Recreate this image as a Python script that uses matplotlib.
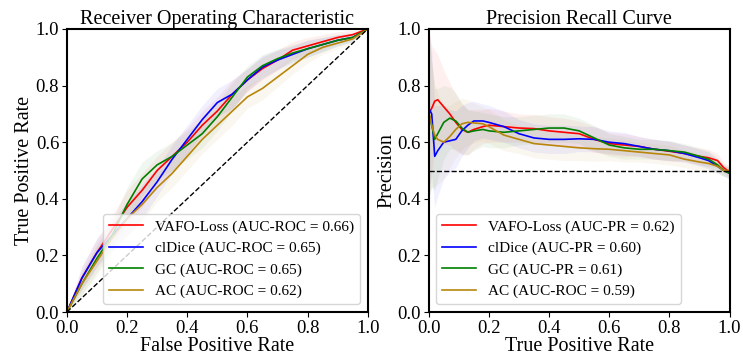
import numpy as np
import matplotlib
matplotlib.use('Agg')
import matplotlib.pyplot as plt

plt.rcParams['font.family'] = ['Liberation Serif', 'DejaVu Serif']

# === ROC data (mean curve + spread) ===
roc_fpr = [0.0, 0.05, 0.1, 0.15, 0.2, 0.25, 0.3, 0.35, 0.4, 0.45, 0.5,
           0.55, 0.6, 0.65, 0.7, 0.75, 0.8, 0.85, 0.9, 0.95, 1.0]
roc_vafo = [0.0, 0.12, 0.21, 0.29, 0.37, 0.43, 0.50, 0.55, 0.60, 0.66, 0.71,
            0.77, 0.82, 0.86, 0.89, 0.925, 0.94, 0.955, 0.97, 0.98, 1.0]
roc_cldice = [0.0, 0.12, 0.21, 0.27, 0.33, 0.39, 0.46, 0.54, 0.61, 0.68, 0.74,
              0.77, 0.82, 0.865, 0.89, 0.91, 0.93, 0.945, 0.96, 0.97, 1.0]
roc_gc = [0.0, 0.10, 0.19, 0.27, 0.38, 0.47, 0.52, 0.55, 0.59, 0.63, 0.69,
          0.76, 0.83, 0.87, 0.895, 0.915, 0.93, 0.945, 0.96, 0.97, 1.0]
roc_ac = [0.0, 0.10, 0.18, 0.26, 0.33, 0.38, 0.44, 0.49, 0.55, 0.61, 0.66,
          0.71, 0.76, 0.79, 0.83, 0.87, 0.91, 0.935, 0.95, 0.965, 1.0]
roc_std = [0.0, 0.04, 0.05, 0.05, 0.06, 0.06, 0.05, 0.05, 0.05, 0.05, 0.05,
           0.05, 0.04, 0.04, 0.035, 0.03, 0.03, 0.025, 0.02, 0.015, 0.0]

# === PR data ===
pr_tpr = [0.0, 0.01, 0.02, 0.03, 0.05, 0.07, 0.09, 0.11, 0.13, 0.15, 0.18, 0.2,
          0.25, 0.3, 0.35, 0.4, 0.45, 0.5, 0.55, 0.6, 0.65, 0.7, 0.75, 0.8,
          0.85, 0.9, 0.93, 0.96, 0.98, 1.0]
pr_vafo = [0.70, 0.72, 0.745, 0.75, 0.725, 0.70, 0.67, 0.645, 0.635, 0.645, 0.655, 0.66,
           0.655, 0.65, 0.648, 0.64, 0.635, 0.63, 0.61, 0.595, 0.59, 0.585, 0.575, 0.568,
           0.56, 0.55, 0.545, 0.535, 0.51, 0.495]
pr_cldice = [0.72, 0.70, 0.55, 0.57, 0.60, 0.605, 0.61, 0.64, 0.66, 0.675, 0.675, 0.67,
             0.655, 0.63, 0.615, 0.61, 0.61, 0.612, 0.61, 0.60, 0.595, 0.585, 0.575, 0.57,
             0.56, 0.545, 0.535, 0.515, 0.50, 0.49]
pr_gc = [0.70, 0.66, 0.61, 0.63, 0.67, 0.685, 0.675, 0.65, 0.635, 0.64, 0.645, 0.64,
         0.635, 0.64, 0.645, 0.65, 0.65, 0.64, 0.615, 0.59, 0.58, 0.575, 0.575, 0.57,
         0.565, 0.55, 0.54, 0.52, 0.50, 0.49]
pr_ac = [0.71, 0.66, 0.625, 0.61, 0.60, 0.62, 0.645, 0.665, 0.67, 0.668, 0.665, 0.655,
         0.625, 0.61, 0.595, 0.59, 0.585, 0.58, 0.577, 0.575, 0.57, 0.565, 0.56, 0.555,
         0.54, 0.53, 0.525, 0.515, 0.50, 0.50]
pr_std = [0.30, 0.22, 0.18, 0.16, 0.13, 0.11, 0.10, 0.09, 0.08, 0.07, 0.06, 0.06,
          0.055, 0.05, 0.05, 0.05, 0.05, 0.045, 0.045, 0.04, 0.04, 0.035, 0.035, 0.035,
          0.03, 0.03, 0.03, 0.025, 0.02, 0.02]

models = ['VAFO-Loss', 'clDice', 'GC', 'AC']
colors = ['red', 'blue', 'green', 'darkgoldenrod']
roc_auc = [0.66, 0.65, 0.65, 0.62]
pr_auc = [0.62, 0.60, 0.61, 0.59]
pr_metric = ['AUC-PR', 'AUC-PR', 'AUC-PR', 'AUC-ROC']

roc_curves = [roc_vafo, roc_cldice, roc_gc, roc_ac]
pr_curves = [pr_vafo, pr_cldice, pr_gc, pr_ac]

fig = plt.figure(figsize=(7.43, 3.62), dpi=100)
ax1 = fig.add_axes([0.090, 0.138, 0.405, 0.782])
ax2 = fig.add_axes([0.577, 0.138, 0.405, 0.782])

# --- ROC ---
s = np.array(roc_std)
for name, c, y, auc in zip(models, colors, roc_curves, roc_auc):
    y = np.array(y)
    ax1.fill_between(roc_fpr, np.clip(y - s, 0, 1), np.clip(y + s, 0, 1), color=c, alpha=0.06, lw=0)
    ax1.plot(roc_fpr, y, color=c, lw=1.2, label=f'{name} (AUC-ROC = {auc:.2f})')
ax1.plot([0, 1], [0, 1], 'k--', lw=1)
ax1.set_xlim(0, 1); ax1.set_ylim(0, 1)
ax1.set_xlabel('False Positive Rate', fontsize=14.5, labelpad=0)
ax1.set_ylabel('True Positive Rate', fontsize=14.5, labelpad=1)
ax1.set_title('Receiver Operating Characteristic', fontsize=14.5, pad=2)
ax1.legend(loc='lower right', fontsize=11, handlelength=2.2, borderaxespad=0.5)

# --- PR ---
s = np.array(pr_std)
for name, c, y, auc, m in zip(models, colors, pr_curves, pr_auc, pr_metric):
    y = np.array(y)
    ax2.fill_between(pr_tpr, np.clip(y - s, 0, 1), np.clip(y + s, 0, 1), color=c, alpha=0.06, lw=0)
    ax2.plot(pr_tpr, y, color=c, lw=1.2, label=f'{name} ({m} = {auc:.2f})')
ax2.plot([1, 1], [0.5, 0.72], color='darkgoldenrod', lw=1.2)
ax2.axhline(0.5, color='k', ls='--', lw=1)
ax2.set_xlim(0, 1); ax2.set_ylim(0, 1)
ax2.set_xlabel('True Positive Rate', fontsize=14.5, labelpad=0)
ax2.set_ylabel('Precision', fontsize=14.5, labelpad=1)
ax2.set_title('Precision Recall Curve', fontsize=14.5, pad=2)
ax2.legend(loc='lower left', fontsize=11, handlelength=2.2, borderaxespad=0.5)

for ax in (ax1, ax2):
    ax.tick_params(labelsize=13.5, pad=2)
    ax.set_xticks([0, 0.2, 0.4, 0.6, 0.8, 1.0])
    ax.set_yticks([0, 0.2, 0.4, 0.6, 0.8, 1.0])
    for sp in ax.spines.values():
        sp.set_linewidth(1.5)

fig.savefig('out.png', dpi=100)
